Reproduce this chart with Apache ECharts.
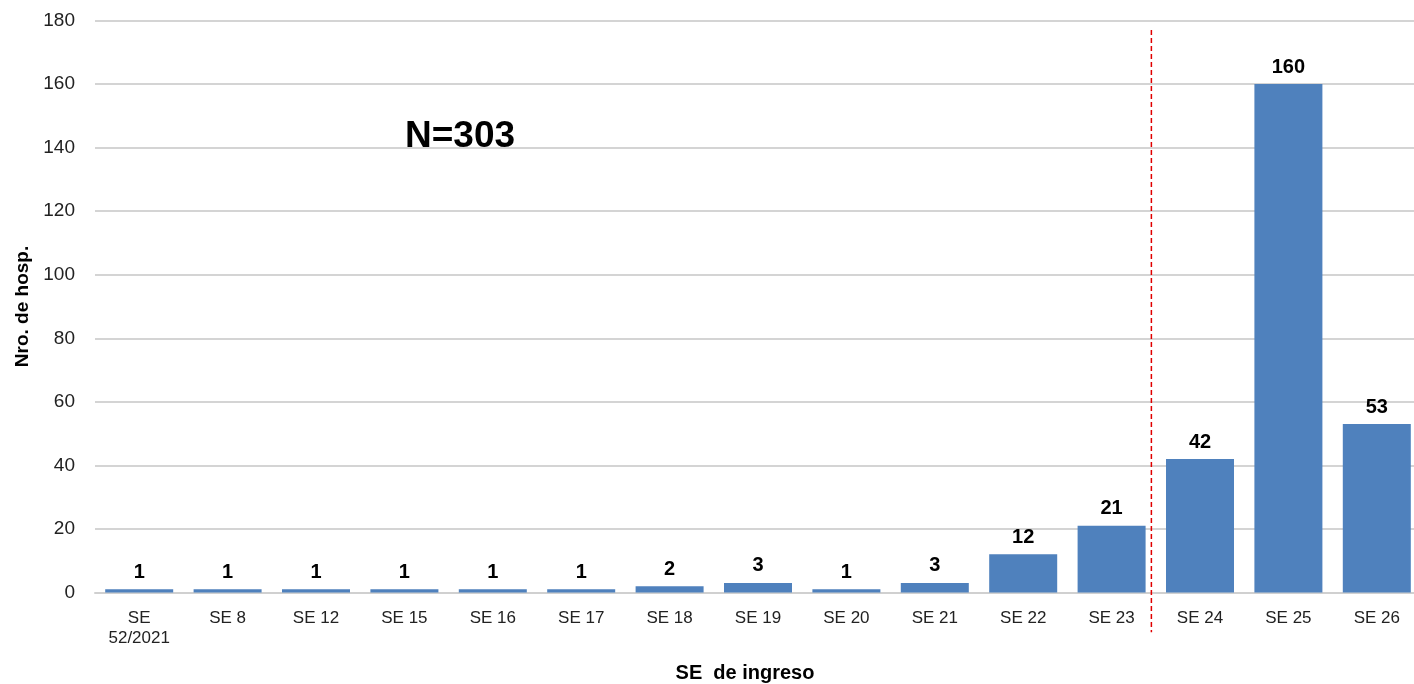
<!DOCTYPE html>
<html>
<head>
<meta charset="utf-8">
<script src="https://cdn.jsdelivr.net/npm/echarts@6/dist/echarts.min.js"></script>
<style>
html,body{margin:0;padding:0;background:#fff;}
#main{width:1414px;height:684px;}
</style>
</head>
<body>
<div id="main"></div>
<script>
const categories = ['SE\n52/2021','SE 8','SE 12','SE 15','SE 16','SE 17','SE 18','SE 19','SE 20','SE 21','SE 22','SE 23','SE 24','SE 25','SE 26'];
const hospValues = [1,1,1,1,1,1,2,3,1,3,12,21,42,160,53];
const yTicks = {min:0, max:180, interval:20};
const annotationText = 'N=303';

const FONT = '"Liberation Sans", Arial, sans-serif';
const chart = echarts.init(document.getElementById('main'), null, {renderer:'canvas'});
chart.setOption({
  animation:false,
  backgroundColor:'#ffffff',
  grid:{left:95, top:20.5, width:1326, height:572, containLabel:false, outerBoundsMode:'none'},
  xAxis:{
    type:'category',
    data:categories,
    name:'SE  de ingreso',
    nameLocation:'middle',
    nameGap:71,
    nameTextStyle:{fontFamily:FONT, fontWeight:'bold', fontSize:20, color:'#000', padding:[0,26,0,0]},
    axisLine:{show:true, lineStyle:{color:'#d0d0d0', width:2}},
    axisTick:{show:false},
    axisLabel:{fontFamily:FONT, fontSize:17, color:'#222', margin:16, lineHeight:20, interval:0}
  },
  yAxis:{
    type:'value',
    min:yTicks.min, max:yTicks.max, interval:yTicks.interval,
    name:'Nro. de hosp.',
    nameLocation:'middle',
    nameGap:63,
    nameTextStyle:{fontFamily:FONT, fontWeight:'bold', fontSize:19, color:'#000'},
    axisLine:{show:false},
    axisTick:{show:false},
    axisLabel:{fontFamily:FONT, fontSize:19, color:'#222', margin:20},
    splitLine:{show:true, lineStyle:{color:'#d4d4d4', width:2}}
  },
  series:[{
    type:'bar',
    data:hospValues,
    barWidth:68,
    itemStyle:{color:'#4F81BD'},
    label:{show:true, position:'top', distance:7, fontFamily:FONT, fontWeight:'bold', fontSize:20, color:'#000'}
  }]
});

function drawExtras(){
  const xa = chart.convertToPixel({xAxisIndex:0}, categories[11]);
  const xb = chart.convertToPixel({xAxisIndex:0}, categories[12]);
  const x = xa + 0.45 * (xb - xa);
  const yTop = chart.convertToPixel({yAxisIndex:0}, 177);
  const yBot = chart.convertToPixel({yAxisIndex:0}, -12.5);
  chart.setOption({
    graphic:[
      {type:'line', shape:{x1:x, y1:yTop, x2:x, y2:yBot}, style:{stroke:'#e00000', lineWidth:1.5, lineDash:[5,3]}, z:10},
      {type:'text', x:460, y:137, style:{text:annotationText, fontFamily:FONT, fontWeight:'bold', fontSize:37, fill:'#000', textAlign:'center', textVerticalAlign:'middle'}, z:10}
    ]
  });
}
drawExtras();
</script>
</body>
</html>
